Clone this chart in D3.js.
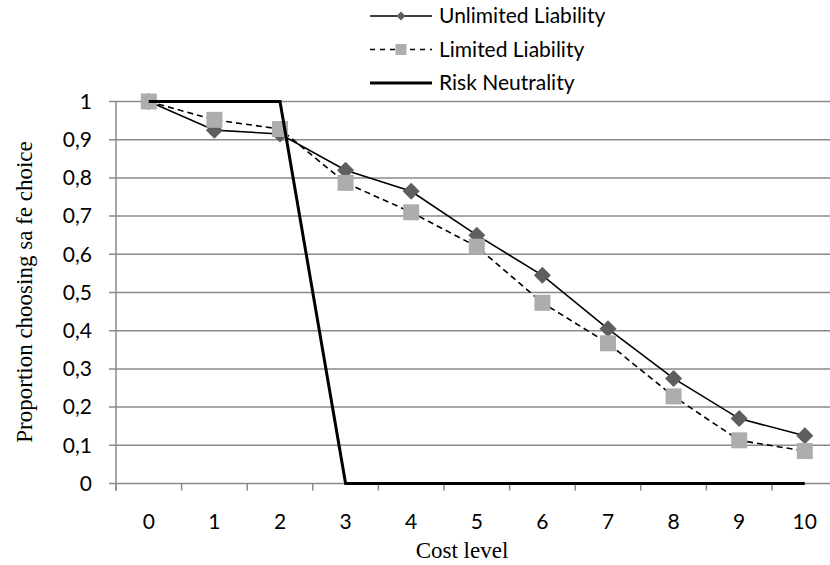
<!DOCTYPE html>
<html><head><meta charset="utf-8">
<script src="https://cdn.jsdelivr.net/npm/d3@7"></script>
<style>body{margin:0;background:#fff}svg{display:block}</style>
</head><body>
<svg id="c" width="830" height="565"></svg>
<script>
const categories = [0,1,2,3,4,5,6,7,8,9,10];
const unlimited = [1.0,0.925,0.915,0.82,0.765,0.65,0.545,0.405,0.275,0.17,0.125];
const limited   = [1.0,0.952,0.928,0.787,0.71,0.62,0.473,0.367,0.228,0.113,0.085];
const riskNeutral = [1,1,1,0,0,0,0,0,0,0,0];
const yTicks = [0,0.1,0.2,0.3,0.4,0.5,0.6,0.7,0.8,0.9,1];
const seriesNames = ["Unlimited  Liability","Limited Liability","Risk Neutrality"];

(function(){
const svg = d3.select("#c");
const plotLeft = 116, bandW = 65.6, plotTop = 101.5, plotBottom = 483.5;
const x = d3.scaleBand().domain(categories).range([plotLeft, plotLeft + bandW*categories.length]);
const y = d3.scaleLinear().domain([0,1]).range([plotBottom, plotTop]);
const cx = d => x(d) + x.bandwidth()/2;
const tickFont = "Lato, 'Open Sans', sans-serif";
const serif = "'Liberation Serif', 'DejaVu Serif', serif";
const grid = "#8a8a8a";

svg.append("g").selectAll("line").data(yTicks).join("line")
  .attr("x1", plotLeft-7).attr("x2", x.range()[1])
  .attr("y1", d=>y(d)).attr("y2", d=>y(d))
  .attr("stroke", grid).attr("stroke-width", 1.5);
svg.append("line").attr("x1", plotLeft).attr("x2", plotLeft).attr("y1", plotTop).attr("y2", plotBottom+7)
  .attr("stroke", grid).attr("stroke-width", 1.5);
const bounds = categories.map(c=>x(c)).concat([x.range()[1]]);
svg.append("g").selectAll("line").data(bounds).join("line")
  .attr("x1", d=>d).attr("x2", d=>d).attr("y1", plotBottom).attr("y2", plotBottom+7)
  .attr("stroke", grid).attr("stroke-width", 1.5);

svg.append("g").selectAll("text").data(yTicks).join("text")
  .attr("x", 92).attr("y", d=>y(d)).attr("dy", "0.35em").attr("text-anchor", "end")
  .attr("font-family", tickFont).attr("font-size", 21).attr("fill", "#000")
  .text(d => d3.format(".1f")(d).replace(".", ",").replace(/^0,0$/, "0").replace(/^1,0$/, "1"));
svg.append("g").selectAll("text").data(categories).join("text")
  .attr("x", d=>cx(d)).attr("y", 522).attr("dy", "0.35em").attr("text-anchor", "middle")
  .attr("font-family", tickFont).attr("font-size", 21).text(d=>d);

svg.append("text").attr("x", 462).attr("y", 550).attr("dy","0.35em").attr("text-anchor","middle")
  .attr("font-family", serif).attr("font-size", 23).text("Cost level");
svg.append("text").attr("transform", "translate(24,292) rotate(-90)").attr("dy","0.35em")
  .attr("text-anchor","middle").attr("font-family", serif).attr("font-size", 23)
  .text("Proportion choosing sa fe choice");

const line = d3.line().x((d,i)=>cx(categories[i])).y(d=>y(d));
const diamond = d3.symbol().type(d3.symbolDiamond2).size(185);
const square = d3.symbol().type(d3.symbolSquare).size(256);

svg.append("path").attr("d", line(unlimited)).attr("fill","none").attr("stroke","#000").attr("stroke-width",1.6);
svg.append("g").selectAll("path").data(unlimited).join("path")
  .attr("transform",(d,i)=>`translate(${cx(categories[i])},${y(d)})`)
  .attr("d", diamond()).attr("fill","#5e5e5e");
svg.append("path").attr("d", line(limited)).attr("fill","none").attr("stroke","#000").attr("stroke-width",1.6)
  .attr("stroke-dasharray","6,4");
svg.append("g").selectAll("path").data(limited).join("path")
  .attr("transform",(d,i)=>`translate(${cx(categories[i])},${y(d)})`)
  .attr("d", square()).attr("fill","#adadad");
svg.append("path").attr("d", line(riskNeutral)).attr("fill","none").attr("stroke","#000").attr("stroke-width",3);

const lg = svg.append("g");
const legendRowY = [16, 49.5, 83];
seriesNames.forEach((name,i)=>{
  const yy = legendRowY[i];
  const l = lg.append("line").attr("x1",370).attr("x2",432).attr("y1",yy).attr("y2",yy).attr("stroke","#000")
    .attr("stroke-width", i===2 ? 3 : 1.6);
  if (i===1) l.attr("stroke-dasharray","5,5");
  if (i===0) lg.append("path").attr("transform",`translate(401,${yy})`).attr("d", d3.symbol().type(d3.symbolDiamond2).size(50)()).attr("fill","#5e5e5e");
  if (i===1) lg.append("path").attr("transform",`translate(401,${yy})`).attr("d", d3.symbol().type(d3.symbolSquare).size(121)()).attr("fill","#adadad");
  lg.append("text").attr("x",439).attr("y",yy).attr("dy","0.35em").attr("font-family",tickFont).attr("font-size",21).text(name);
});
})();
</script>
</body></html>
